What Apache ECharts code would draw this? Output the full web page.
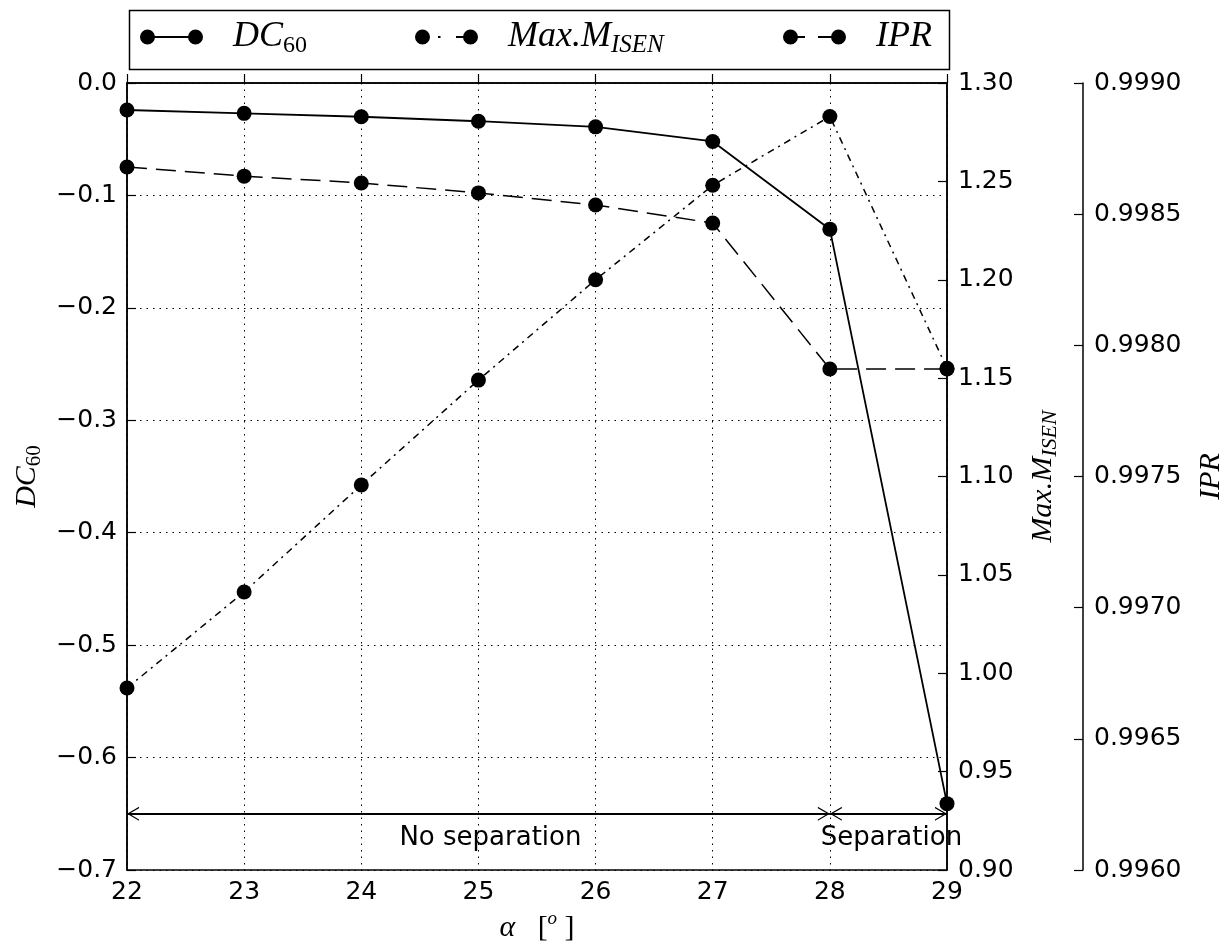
<!DOCTYPE html>
<html>
<head>
<meta charset="utf-8">
<script src="https://cdn.jsdelivr.net/npm/echarts@6/dist/echarts.min.js"></script>
<style>
  html, body { margin: 0; padding: 0; background: #fff; }
  #main { width: 1221px; height: 941px; }
</style>
</head>
<body>
<div id="main"></div>
<script>
// angle of attack [deg]
const alpha = [22, 23, 24, 25, 26, 27, 28, 29];
const dc60 = [-0.024, -0.027, -0.030, -0.034, -0.039, -0.052, -0.130, -0.641];
const maxM = [0.9925, 1.0413, 1.0957, 1.149, 1.200, 1.248, 1.283, 1.155];
const ipr = [0.99868, 0.998645, 0.998619, 0.998581, 0.998535, 0.998466, 0.99791, 0.99791];

// tick labels
const xTicks = [22, 23, 24, 25, 26, 27, 28, 29];
const dcTicks = [-0.7, -0.6, -0.5, -0.4, -0.3, -0.2, -0.1, 0.0];
const mTicks = [0.90, 0.95, 1.00, 1.05, 1.10, 1.15, 1.20, 1.25, 1.30];
const iprTicks = [0.9960, 0.9965, 0.9970, 0.9975, 0.9980, 0.9985, 0.9990];

// annotation arrows
const regions = [
  { from: 22, to: 28, y: -0.65, text: 'No separation', shift: 12 },
  { from: 28, to: 29, y: -0.65, text: 'Separation', shift: 3 },
];

const SERIF = 'Liberation Serif';
const SANS = 'DejaVu Sans';

const richName = {
  it: { fontFamily: SERIF, fontStyle: 'italic', fontSize: 30, lineHeight: 36, color: '#000' },
  rm: { fontFamily: SERIF, fontSize: 30, lineHeight: 36, color: '#000' },
  sub: { fontFamily: SERIF, fontSize: 21, lineHeight: 21, verticalAlign: 'bottom', color: '#000' },
  subi: { fontFamily: SERIF, fontStyle: 'italic', fontSize: 22, lineHeight: 21, verticalAlign: 'bottom', color: '#000' },
  sup: { fontFamily: SERIF, fontStyle: 'italic', fontSize: 19, lineHeight: 19, verticalAlign: 'top', color: '#000' },
};
const richLegend = {
  it: { fontFamily: SERIF, fontStyle: 'italic', fontSize: 36, lineHeight: 42, color: '#000' },
  sub: { fontFamily: SERIF, fontSize: 24, lineHeight: 24, verticalAlign: 'bottom', color: '#000' },
  subi: { fontFamily: SERIF, fontStyle: 'italic', fontSize: 25, lineHeight: 24, verticalAlign: 'bottom', color: '#000' },
};

const labelsOf = {
  DC60: '{it|DC}{sub|60}',
  MaxM: '{it|Max.M}{subi|ISEN}',
  IPR: '{it|IPR}',
};

const fmt = d => v => (v < 0 ? '\u2212' : '') + Math.abs(v).toFixed(d);

// open chevron, tip at the symbol centre
const arrowHead = 'path://M7,0L7.01,0L7,0.01Z M0,24L7,12L14,24L12.6,24L7,14.4L1.4,24Z';

const legendIcons = {
  DC60: 'path://M0,7.5A7.5,7.5 0 1,1 15,7.5A7.5,7.5 0 1,1 0,7.5Z M14,6.6H49V8.4H14Z M48,7.5A7.5,7.5 0 1,1 63,7.5A7.5,7.5 0 1,1 48,7.5Z',
  MaxM: 'path://M0,7.5A7.5,7.5 0 1,1 15,7.5A7.5,7.5 0 1,1 0,7.5Z M23,6.6H25.5V8.4H23Z M41,6.6H49V8.4H41Z M48,7.5A7.5,7.5 0 1,1 63,7.5A7.5,7.5 0 1,1 48,7.5Z',
  IPR: 'path://M0,7.5A7.5,7.5 0 1,1 15,7.5A7.5,7.5 0 1,1 0,7.5Z M14,6.6H22V8.4H14Z M35,6.6H49V8.4H35Z M48,7.5A7.5,7.5 0 1,1 63,7.5A7.5,7.5 0 1,1 48,7.5Z',
};
const legendLeft = { DC60: 140, MaxM: 415, IPR: 783 };

const step = a => +(a[1] - a[0]).toFixed(6);

const chart = echarts.init(document.getElementById('main'), null, { renderer: 'canvas' });

const axisCommon = {
  type: 'value',
  axisLine: { show: true, lineStyle: { color: '#000', width: 1.5 } },
  axisTick: { show: true, inside: true, length: 9, lineStyle: { color: '#000', width: 1.2 } },
  axisLabel: { color: '#000', fontFamily: SANS, fontSize: 25 },
  nameLocation: 'middle',
};

chart.setOption({
  backgroundColor: '#ffffff',
  animation: false,
  grid: {
    left: 127, right: 274, top: 83, bottom: 71,
    outerBoundsMode: 'none', containLabel: false,
    show: true, borderColor: '#000', borderWidth: 1.5, backgroundColor: 'transparent',
  },
  graphic: [{
    type: 'rect', left: 127, top: 8, z: 100,
    shape: { width: 820, height: 59 },
    style: { fill: 'none', stroke: '#000', lineWidth: 1.5 },
  }],
  legend: Object.keys(labelsOf).map(k => ({
    left: legendLeft[k], top: 19, padding: 0,
    itemWidth: 63, itemHeight: 15,
    data: [{ name: k, icon: legendIcons[k] }],
    formatter: n => labelsOf[n],
    textStyle: { padding: [0, 0, 0, 25], rich: richLegend },
  })),
  xAxis: {
    ...axisCommon,
    min: xTicks[0], max: xTicks[xTicks.length - 1], interval: step(xTicks),
    axisLabel: { ...axisCommon.axisLabel, margin: 10 },
    splitLine: { show: true, lineStyle: { color: '#000', type: [1.5, 5], width: 1 } },
    name: '{it|\u03b1}{rm|   [}{sup|o}{rm| ]}',
    nameGap: 38,
    nameTextStyle: { rich: richName },
  },
  yAxis: [
    {
      ...axisCommon,
      position: 'left',
      min: dcTicks[0], max: dcTicks[dcTicks.length - 1], interval: step(dcTicks),
      axisLabel: { ...axisCommon.axisLabel, margin: 10, formatter: fmt(1) },
      splitLine: { show: true, lineStyle: { color: '#000', type: [1.5, 5], width: 1 } },
      name: labelsOf.DC60, nameRotate: 90, nameGap: 80,
      nameTextStyle: { rich: richName },
    },
    {
      ...axisCommon,
      position: 'right',
      min: mTicks[0], max: mTicks[mTicks.length - 1], interval: step(mTicks),
      axisLabel: { ...axisCommon.axisLabel, margin: 11, formatter: fmt(2) },
      splitLine: { show: false },
      name: labelsOf.MaxM, nameRotate: 90, nameGap: 78,
      nameTextStyle: { rich: richName },
    },
    {
      ...axisCommon,
      position: 'right', offset: 136,
      min: iprTicks[0], max: iprTicks[iprTicks.length - 1], interval: step(iprTicks),
      axisLabel: { ...axisCommon.axisLabel, margin: 11, formatter: fmt(4) },
      splitLine: { show: false },
      name: labelsOf.IPR, nameRotate: 90, nameGap: 110,
      nameTextStyle: { rich: richName },
    },
  ],
  series: [
    {
      name: 'DC60', type: 'line', yAxisIndex: 0,
      data: alpha.map((a, i) => [a, dc60[i]]),
      symbol: 'circle', symbolSize: 15, showAllSymbol: true,
      itemStyle: { color: '#000' },
      lineStyle: { color: '#000', width: 1.8, type: 'solid' },
      markLine: {
        silent: true,
        symbol: [arrowHead, arrowHead],
        symbolSize: [14, 24],
        lineStyle: { color: '#000', width: 1.8, type: 'solid' },
        label: {
          show: true, position: 'insideMiddleBottom', distance: 11,
          color: '#000', fontFamily: SANS, fontSize: 26,
        },
        data: regions.map(r => [
          { coord: [r.from, r.y], label: { formatter: r.text, offset: [r.shift, 0] } },
          { coord: [r.to, r.y] },
        ]),
      },
    },
    {
      name: 'MaxM', type: 'line', yAxisIndex: 1,
      data: alpha.map((a, i) => [a, maxM[i]]),
      symbol: 'circle', symbolSize: 15, showAllSymbol: true,
      itemStyle: { color: '#000' },
      lineStyle: { color: '#000', width: 1.5, type: [7, 5, 2, 5] },
    },
    {
      name: 'IPR', type: 'line', yAxisIndex: 2,
      data: alpha.map((a, i) => [a, ipr[i]]),
      symbol: 'circle', symbolSize: 15, showAllSymbol: true,
      itemStyle: { color: '#000' },
      lineStyle: { color: '#000', width: 1.5, type: [20, 9] },
    },
  ],
});
</script>
</body>
</html>
